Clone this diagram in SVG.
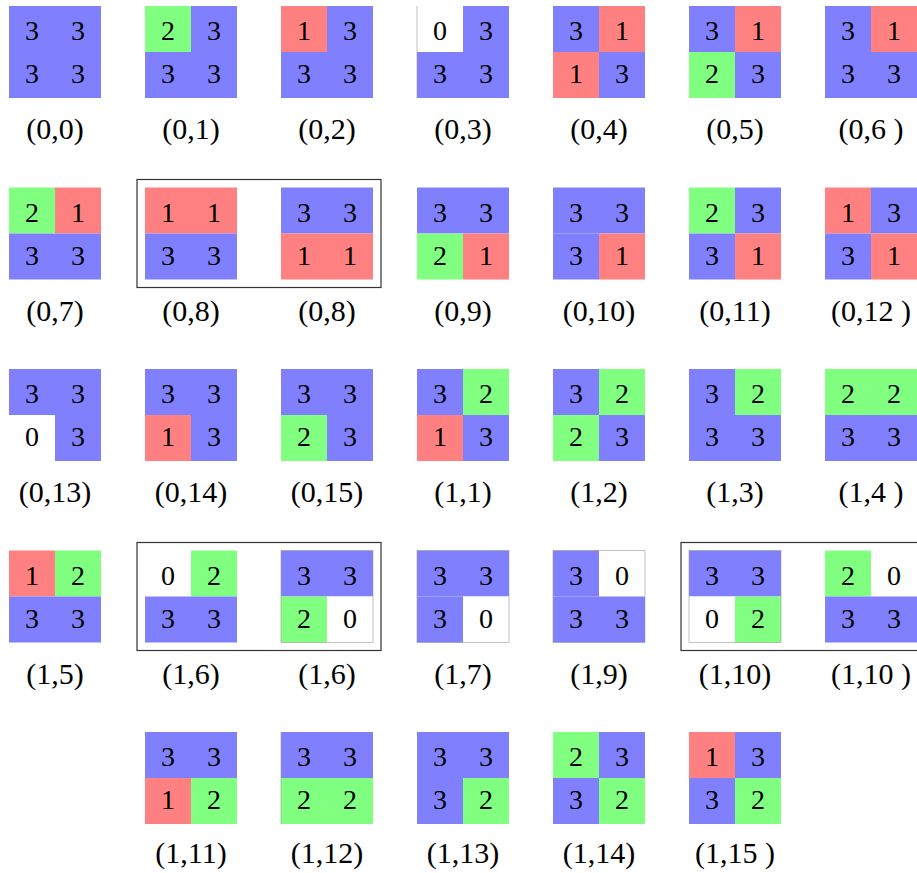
<svg xmlns="http://www.w3.org/2000/svg" width="917" height="873" viewBox="0 0 917 873" font-family="'Liberation Serif', 'Times New Roman', serif">
<style>
.b{fill:#8080FF}.g{fill:#80FF80}.r{fill:#FF8080}.w{fill:#FFFFFF}
.n{font-family:'Liberation Serif','Times New Roman',serif;font-size:28px;text-anchor:middle;fill:#000}
.l{font-family:'Liberation Serif','Times New Roman',serif;font-size:30px;text-anchor:middle;fill:#000}
.o{fill:none;stroke:#999;stroke-width:0.6}
.f{fill:none;stroke:#333;stroke-width:1.2}
</style>
<defs>
<rect id="c" width="46" height="46"/>
</defs>
<g id="frames">
<rect class="f" x="137" y="179.5" width="244" height="108"/>
<rect class="f" x="137" y="542.5" width="244" height="108"/>
<rect class="f" x="681" y="542.5" width="250" height="108"/>
</g>
<g id="t00"><use href="#c" class="b" x="9" y="6"/><use href="#c" class="b" x="55" y="6"/><use href="#c" class="b" x="9" y="52"/><use href="#c" class="b" x="55" y="52"/><text class="n" x="32" y="40">3</text><text class="n" x="78" y="40">3</text><text class="n" x="32" y="83">3</text><text class="n" x="78" y="83">3</text><text class="l" x="55" y="139">(0,0)</text></g>
<g id="t01"><use href="#c" class="g" x="145" y="6"/><use href="#c" class="b" x="191" y="6"/><use href="#c" class="b" x="145" y="52"/><use href="#c" class="b" x="191" y="52"/><text class="n" x="168" y="40">2</text><text class="n" x="214" y="40">3</text><text class="n" x="168" y="83">3</text><text class="n" x="214" y="83">3</text><text class="l" x="191" y="139">(0,1)</text></g>
<g id="t02"><use href="#c" class="r" x="281" y="6"/><use href="#c" class="b" x="327" y="6"/><use href="#c" class="b" x="281" y="52"/><use href="#c" class="b" x="327" y="52"/><text class="n" x="304" y="40">1</text><text class="n" x="350" y="40">3</text><text class="n" x="304" y="83">3</text><text class="n" x="350" y="83">3</text><text class="l" x="327" y="139">(0,2)</text></g>
<g id="t03"><use href="#c" class="w" x="417" y="6"/><use href="#c" class="b" x="463" y="6"/><use href="#c" class="b" x="417" y="52"/><use href="#c" class="b" x="463" y="52"/><line class="o" x1="417" y1="6" x2="417" y2="98"/><text class="n" x="440" y="40">0</text><text class="n" x="486" y="40">3</text><text class="n" x="440" y="83">3</text><text class="n" x="486" y="83">3</text><text class="l" x="463" y="139">(0,3)</text></g>
<g id="t04"><use href="#c" class="b" x="553" y="6"/><use href="#c" class="r" x="599" y="6"/><use href="#c" class="r" x="553" y="52"/><use href="#c" class="b" x="599" y="52"/><text class="n" x="576" y="40">3</text><text class="n" x="622" y="40">1</text><text class="n" x="576" y="83">1</text><text class="n" x="622" y="83">3</text><text class="l" x="599" y="139">(0,4)</text></g>
<g id="t05"><use href="#c" class="b" x="689" y="6"/><use href="#c" class="r" x="735" y="6"/><use href="#c" class="g" x="689" y="52"/><use href="#c" class="b" x="735" y="52"/><text class="n" x="712" y="40">3</text><text class="n" x="758" y="40">1</text><text class="n" x="712" y="83">2</text><text class="n" x="758" y="83">3</text><text class="l" x="735" y="139">(0,5)</text></g>
<g id="t06"><use href="#c" class="b" x="825" y="6"/><use href="#c" class="r" x="871" y="6"/><use href="#c" class="b" x="825" y="52"/><use href="#c" class="b" x="871" y="52"/><text class="n" x="848" y="40">3</text><text class="n" x="894" y="40">1</text><text class="n" x="848" y="83">3</text><text class="n" x="894" y="83">3</text><text class="l" x="871" y="139">(0,6 )</text></g>

<g id="t07"><use href="#c" class="g" x="9" y="187.5"/><use href="#c" class="r" x="55" y="187.5"/><use href="#c" class="b" x="9" y="233.5"/><use href="#c" class="b" x="55" y="233.5"/><text class="n" x="32" y="221.5">2</text><text class="n" x="78" y="221.5">1</text><text class="n" x="32" y="264.5">3</text><text class="n" x="78" y="264.5">3</text><text class="l" x="55" y="320.5">(0,7)</text></g>
<g id="t08a"><use href="#c" class="r" x="145" y="187.5"/><use href="#c" class="r" x="191" y="187.5"/><use href="#c" class="b" x="145" y="233.5"/><use href="#c" class="b" x="191" y="233.5"/><text class="n" x="168" y="221.5">1</text><text class="n" x="214" y="221.5">1</text><text class="n" x="168" y="264.5">3</text><text class="n" x="214" y="264.5">3</text><text class="l" x="191" y="320.5">(0,8)</text></g>
<g id="t08b"><use href="#c" class="b" x="281" y="187.5"/><use href="#c" class="b" x="327" y="187.5"/><use href="#c" class="r" x="281" y="233.5"/><use href="#c" class="r" x="327" y="233.5"/><text class="n" x="304" y="221.5">3</text><text class="n" x="350" y="221.5">3</text><text class="n" x="304" y="264.5">1</text><text class="n" x="350" y="264.5">1</text><text class="l" x="327" y="320.5">(0,8)</text></g>
<g id="t09"><use href="#c" class="b" x="417" y="187.5"/><use href="#c" class="b" x="463" y="187.5"/><use href="#c" class="g" x="417" y="233.5"/><use href="#c" class="r" x="463" y="233.5"/><text class="n" x="440" y="221.5">3</text><text class="n" x="486" y="221.5">3</text><text class="n" x="440" y="264.5">2</text><text class="n" x="486" y="264.5">1</text><text class="l" x="463" y="320.5">(0,9)</text></g>
<g id="t010"><use href="#c" class="b" x="553" y="187.5"/><use href="#c" class="b" x="599" y="187.5"/><use href="#c" class="b" x="553" y="233.5"/><use href="#c" class="r" x="599" y="233.5"/><text class="n" x="576" y="221.5">3</text><text class="n" x="622" y="221.5">3</text><text class="n" x="576" y="264.5">3</text><text class="n" x="622" y="264.5">1</text><text class="l" x="599" y="320.5">(0,10)</text></g>
<g id="t011"><use href="#c" class="g" x="689" y="187.5"/><use href="#c" class="b" x="735" y="187.5"/><use href="#c" class="b" x="689" y="233.5"/><use href="#c" class="r" x="735" y="233.5"/><text class="n" x="712" y="221.5">2</text><text class="n" x="758" y="221.5">3</text><text class="n" x="712" y="264.5">3</text><text class="n" x="758" y="264.5">1</text><text class="l" x="735" y="320.5">(0,11)</text></g>
<g id="t012"><use href="#c" class="r" x="825" y="187.5"/><use href="#c" class="b" x="871" y="187.5"/><use href="#c" class="b" x="825" y="233.5"/><use href="#c" class="r" x="871" y="233.5"/><text class="n" x="848" y="221.5">1</text><text class="n" x="894" y="221.5">3</text><text class="n" x="848" y="264.5">3</text><text class="n" x="894" y="264.5">1</text><text class="l" x="871" y="320.5">(0,12 )</text></g>

<g id="t013"><use href="#c" class="b" x="9" y="369"/><use href="#c" class="b" x="55" y="369"/><use href="#c" class="w" x="9" y="415"/><use href="#c" class="b" x="55" y="415"/><text class="n" x="32" y="403">3</text><text class="n" x="78" y="403">3</text><text class="n" x="32" y="446">0</text><text class="n" x="78" y="446">3</text><text class="l" x="55" y="502">(0,13)</text></g>
<g id="t014"><use href="#c" class="b" x="145" y="369"/><use href="#c" class="b" x="191" y="369"/><use href="#c" class="r" x="145" y="415"/><use href="#c" class="b" x="191" y="415"/><text class="n" x="168" y="403">3</text><text class="n" x="214" y="403">3</text><text class="n" x="168" y="446">1</text><text class="n" x="214" y="446">3</text><text class="l" x="191" y="502">(0,14)</text></g>
<g id="t015"><use href="#c" class="b" x="281" y="369"/><use href="#c" class="b" x="327" y="369"/><use href="#c" class="g" x="281" y="415"/><use href="#c" class="b" x="327" y="415"/><text class="n" x="304" y="403">3</text><text class="n" x="350" y="403">3</text><text class="n" x="304" y="446">2</text><text class="n" x="350" y="446">3</text><text class="l" x="327" y="502">(0,15)</text></g>
<g id="t11"><use href="#c" class="b" x="417" y="369"/><use href="#c" class="g" x="463" y="369"/><use href="#c" class="r" x="417" y="415"/><use href="#c" class="b" x="463" y="415"/><text class="n" x="440" y="403">3</text><text class="n" x="486" y="403">2</text><text class="n" x="440" y="446">1</text><text class="n" x="486" y="446">3</text><text class="l" x="463" y="502">(1,1)</text></g>
<g id="t12"><use href="#c" class="b" x="553" y="369"/><use href="#c" class="g" x="599" y="369"/><use href="#c" class="g" x="553" y="415"/><use href="#c" class="b" x="599" y="415"/><text class="n" x="576" y="403">3</text><text class="n" x="622" y="403">2</text><text class="n" x="576" y="446">2</text><text class="n" x="622" y="446">3</text><text class="l" x="599" y="502">(1,2)</text></g>
<g id="t13"><use href="#c" class="b" x="689" y="369"/><use href="#c" class="g" x="735" y="369"/><use href="#c" class="b" x="689" y="415"/><use href="#c" class="b" x="735" y="415"/><text class="n" x="712" y="403">3</text><text class="n" x="758" y="403">2</text><text class="n" x="712" y="446">3</text><text class="n" x="758" y="446">3</text><text class="l" x="735" y="502">(1,3)</text></g>
<g id="t14"><use href="#c" class="g" x="825" y="369"/><use href="#c" class="g" x="871" y="369"/><use href="#c" class="b" x="825" y="415"/><use href="#c" class="b" x="871" y="415"/><text class="n" x="848" y="403">2</text><text class="n" x="894" y="403">2</text><text class="n" x="848" y="446">3</text><text class="n" x="894" y="446">3</text><text class="l" x="871" y="502">(1,4 )</text></g>

<g id="t15"><use href="#c" class="r" x="9" y="550.5"/><use href="#c" class="g" x="55" y="550.5"/><use href="#c" class="b" x="9" y="596.5"/><use href="#c" class="b" x="55" y="596.5"/><text class="n" x="32" y="584.5">1</text><text class="n" x="78" y="584.5">2</text><text class="n" x="32" y="627.5">3</text><text class="n" x="78" y="627.5">3</text><text class="l" x="55" y="683.5">(1,5)</text></g>
<g id="t16a"><use href="#c" class="w" x="145" y="550.5"/><use href="#c" class="g" x="191" y="550.5"/><use href="#c" class="b" x="145" y="596.5"/><use href="#c" class="b" x="191" y="596.5"/><text class="n" x="168" y="584.5">0</text><text class="n" x="214" y="584.5">2</text><text class="n" x="168" y="627.5">3</text><text class="n" x="214" y="627.5">3</text><text class="l" x="191" y="683.5">(1,6)</text></g>
<g id="t16b"><use href="#c" class="b" x="281" y="550.5"/><use href="#c" class="b" x="327" y="550.5"/><use href="#c" class="g" x="281" y="596.5"/><use href="#c" class="w" x="327" y="596.5"/><rect class="o" x="281" y="550.5" width="92" height="92"/><text class="n" x="304" y="584.5">3</text><text class="n" x="350" y="584.5">3</text><text class="n" x="304" y="627.5">2</text><text class="n" x="350" y="627.5">0</text><text class="l" x="327" y="683.5">(1,6)</text></g>
<g id="t17"><use href="#c" class="b" x="417" y="550.5"/><use href="#c" class="b" x="463" y="550.5"/><use href="#c" class="b" x="417" y="596.5"/><use href="#c" class="w" x="463" y="596.5"/><rect class="o" x="417" y="550.5" width="92" height="92"/><text class="n" x="440" y="584.5">3</text><text class="n" x="486" y="584.5">3</text><text class="n" x="440" y="627.5">3</text><text class="n" x="486" y="627.5">0</text><text class="l" x="463" y="683.5">(1,7)</text></g>
<g id="t19"><use href="#c" class="b" x="553" y="550.5"/><use href="#c" class="w" x="599" y="550.5"/><use href="#c" class="b" x="553" y="596.5"/><use href="#c" class="b" x="599" y="596.5"/><rect class="o" x="553" y="550.5" width="92" height="92"/><text class="n" x="576" y="584.5">3</text><text class="n" x="622" y="584.5">0</text><text class="n" x="576" y="627.5">3</text><text class="n" x="622" y="627.5">3</text><text class="l" x="599" y="683.5">(1,9)</text></g>
<g id="t110a"><use href="#c" class="b" x="689" y="550.5"/><use href="#c" class="b" x="735" y="550.5"/><use href="#c" class="w" x="689" y="596.5"/><use href="#c" class="g" x="735" y="596.5"/><rect class="o" x="689" y="550.5" width="92" height="92"/><text class="n" x="712" y="584.5">3</text><text class="n" x="758" y="584.5">3</text><text class="n" x="712" y="627.5">0</text><text class="n" x="758" y="627.5">2</text><text class="l" x="735" y="683.5">(1,10)</text></g>
<g id="t110b"><use href="#c" class="g" x="825" y="550.5"/><use href="#c" class="w" x="871" y="550.5"/><use href="#c" class="b" x="825" y="596.5"/><use href="#c" class="b" x="871" y="596.5"/><text class="n" x="848" y="584.5">2</text><text class="n" x="894" y="584.5">0</text><text class="n" x="848" y="627.5">3</text><text class="n" x="894" y="627.5">3</text><text class="l" x="871" y="683.5">(1,10 )</text></g>

<g id="t111"><use href="#c" class="b" x="145" y="732"/><use href="#c" class="b" x="191" y="732"/><use href="#c" class="r" x="145" y="778"/><use href="#c" class="g" x="191" y="778"/><text class="n" x="168" y="766">3</text><text class="n" x="214" y="766">3</text><text class="n" x="168" y="809">1</text><text class="n" x="214" y="809">2</text><text class="l" x="191" y="863">(1,11)</text></g>
<g id="t112"><use href="#c" class="b" x="281" y="732"/><use href="#c" class="b" x="327" y="732"/><use href="#c" class="g" x="281" y="778"/><use href="#c" class="g" x="327" y="778"/><line class="o" x1="281" y1="732" x2="281" y2="824"/><text class="n" x="304" y="766">3</text><text class="n" x="350" y="766">3</text><text class="n" x="304" y="809">2</text><text class="n" x="350" y="809">2</text><text class="l" x="327" y="863">(1,12)</text></g>
<g id="t113"><use href="#c" class="b" x="417" y="732"/><use href="#c" class="b" x="463" y="732"/><use href="#c" class="b" x="417" y="778"/><use href="#c" class="g" x="463" y="778"/><text class="n" x="440" y="766">3</text><text class="n" x="486" y="766">3</text><text class="n" x="440" y="809">3</text><text class="n" x="486" y="809">2</text><text class="l" x="463" y="863">(1,13)</text></g>
<g id="t114"><use href="#c" class="g" x="553" y="732"/><use href="#c" class="b" x="599" y="732"/><use href="#c" class="b" x="553" y="778"/><use href="#c" class="g" x="599" y="778"/><text class="n" x="576" y="766">2</text><text class="n" x="622" y="766">3</text><text class="n" x="576" y="809">3</text><text class="n" x="622" y="809">2</text><text class="l" x="599" y="863">(1,14)</text></g>
<g id="t115"><use href="#c" class="r" x="689" y="732"/><use href="#c" class="b" x="735" y="732"/><use href="#c" class="b" x="689" y="778"/><use href="#c" class="g" x="735" y="778"/><text class="n" x="712" y="766">1</text><text class="n" x="758" y="766">3</text><text class="n" x="712" y="809">3</text><text class="n" x="758" y="809">2</text><text class="l" x="735" y="863">(1,15 )</text></g>
<g id="connectors"></g>
</svg>
